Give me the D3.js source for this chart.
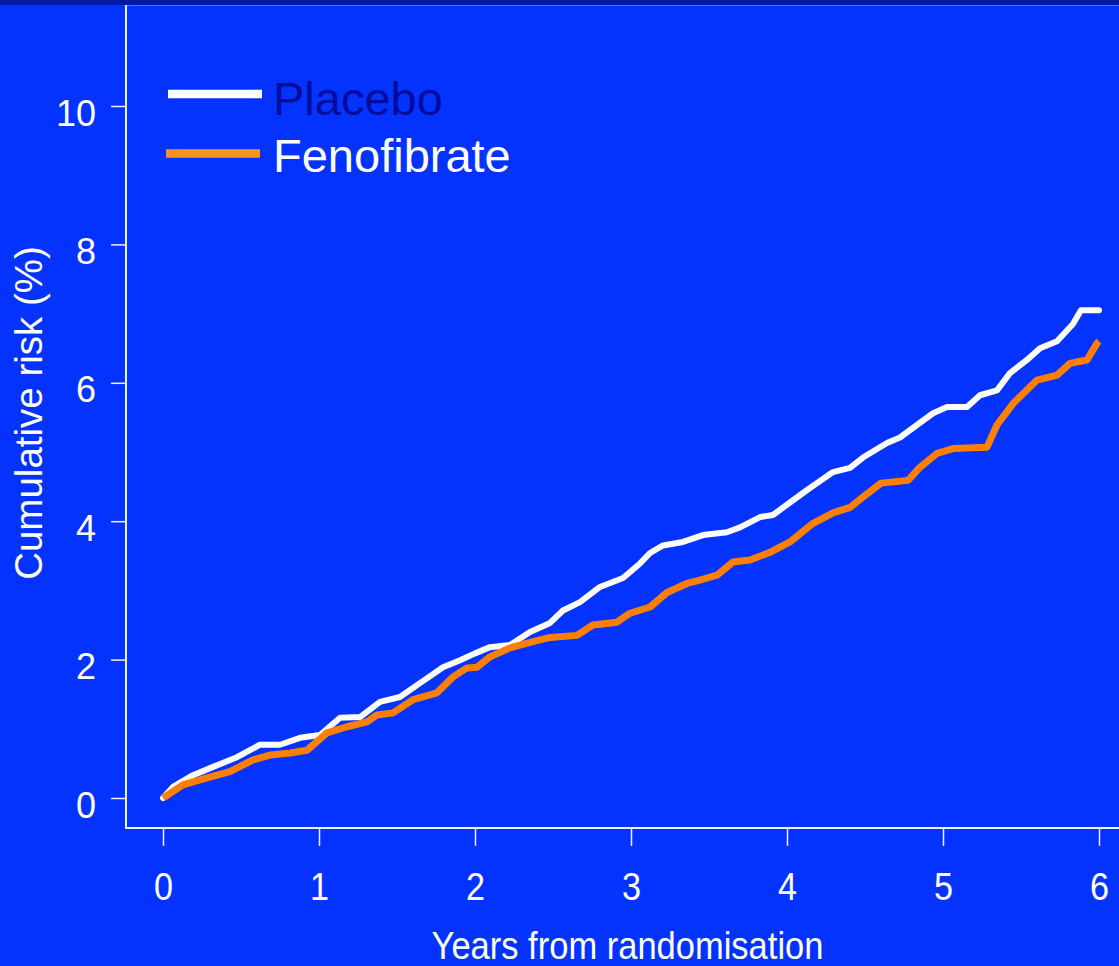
<!DOCTYPE html>
<html>
<head>
<meta charset="utf-8">
<script src="https://cdn.jsdelivr.net/npm/d3@7/dist/d3.min.js"></script>
<style>
  html, body { margin: 0; padding: 0; background: #0433FF; }
  svg { display: block; font-family: "Liberation Sans", Arial, sans-serif; }
</style>
</head>
<body>
<svg id="chart" width="1119" height="966"></svg>
<script>
// ---- data ----
const placeboYears = [0, 0.064, 0.192, 0.321, 0.474, 0.622, 0.750, 0.878, 1.006, 1.135, 1.263, 1.391, 1.519, 1.647, 1.795, 1.904, 2.000, 2.096, 2.224, 2.353, 2.481, 2.564, 2.673, 2.801, 2.949, 3.058, 3.122, 3.205, 3.333, 3.462, 3.615, 3.699, 3.827, 3.910, 4.019, 4.147, 4.295, 4.404, 4.487, 4.641, 4.724, 4.833, 4.936, 5.026, 5.154, 5.237, 5.346, 5.429, 5.538, 5.622, 5.731, 5.833, 5.885, 6.0];
const placeboRisk  = [0, 0.16, 0.33, 0.45, 0.59, 0.77, 0.77, 0.87, 0.91, 1.16, 1.17, 1.39, 1.46, 1.66, 1.89, 1.99, 2.09, 2.18, 2.21, 2.40, 2.53, 2.71, 2.83, 3.05, 3.18, 3.39, 3.54, 3.65, 3.70, 3.80, 3.84, 3.91, 4.06, 4.09, 4.27, 4.48, 4.71, 4.77, 4.92, 5.13, 5.21, 5.39, 5.56, 5.65, 5.65, 5.82, 5.89, 6.14, 6.33, 6.50, 6.60, 6.85, 7.05, 7.05];
const fenoYears = [0, 0.128, 0.282, 0.429, 0.577, 0.686, 0.814, 0.923, 1.051, 1.179, 1.308, 1.372, 1.474, 1.603, 1.756, 1.859, 1.949, 2.013, 2.096, 2.224, 2.353, 2.481, 2.654, 2.756, 2.910, 2.994, 3.122, 3.231, 3.359, 3.442, 3.551, 3.654, 3.763, 3.891, 4.019, 4.167, 4.295, 4.404, 4.487, 4.603, 4.776, 4.853, 4.962, 5.064, 5.282, 5.346, 5.449, 5.603, 5.731, 5.814, 5.923, 5.987, 6.0];
const fenoRisk  = [0, 0.19, 0.29, 0.38, 0.55, 0.62, 0.65, 0.69, 0.94, 1.03, 1.10, 1.20, 1.23, 1.42, 1.52, 1.75, 1.88, 1.89, 2.04, 2.17, 2.25, 2.32, 2.35, 2.50, 2.54, 2.67, 2.76, 2.97, 3.10, 3.15, 3.22, 3.41, 3.44, 3.55, 3.70, 3.97, 4.12, 4.20, 4.35, 4.55, 4.59, 4.78, 4.98, 5.05, 5.07, 5.39, 5.70, 6.04, 6.11, 6.28, 6.33, 6.57, 6.60];
const xTicks = [0, 1, 2, 3, 4, 5, 6];
const yTicks = [0, 2, 4, 6, 8, 10];
const seriesNames = ["Placebo", "Fenofibrate"];
const xTitle = "Years from randomisation";
const yTitle = "Cumulative risk (%)";

const svg = d3.select("#chart");
const W = 1119, H = 966;

svg.append("rect").attr("x", 0).attr("y", 0).attr("width", W).attr("height", H).attr("fill", "#0433FF");
svg.append("rect").attr("x", 0).attr("y", 0).attr("width", W).attr("height", 5).attr("fill", "#0019A8");
svg.append("line").attr("x1", 126).attr("x2", W).attr("y1", 5.5).attr("y2", 5.5)
   .attr("stroke", "#4D6BFF").attr("stroke-width", 1);

const x = d3.scaleLinear().domain([0, 6]).range([163, 1099]);
const y = d3.scaleLinear().domain([0, 10]).range([798, 106]);

// axes lines
svg.append("line").attr("x1", 126).attr("x2", 126).attr("y1", 5).attr("y2", 829)
   .attr("stroke", "#F0F0FF").attr("stroke-width", 2);
svg.append("line").attr("x1", 125).attr("x2", W).attr("y1", 828).attr("y2", 828)
   .attr("stroke", "#F0F0FF").attr("stroke-width", 2);

// x axis
const gx = svg.append("g").attr("transform", "translate(0,829)")
  .call(d3.axisBottom(x).tickValues(xTicks).tickSize(17).tickSizeOuter(0).tickFormat(d3.format("d")));
gx.select(".domain").remove();
gx.selectAll(".tick line").attr("stroke", "#F0F0FF").attr("stroke-width", 1.5);
gx.selectAll(".tick text")
  .attr("y", null).attr("dy", null)
  .attr("transform", "translate(0,71) scale(0.9,1)")
  .attr("fill", "white").attr("font-size", 38).attr("text-anchor", "middle")
  .style("font-family", "'Liberation Sans', Arial, sans-serif");

// y axis
const gy = svg.append("g").attr("transform", "translate(126,0)")
  .call(d3.axisLeft(y).tickValues(yTicks).tickSize(15).tickSizeOuter(0).tickFormat(d3.format("d")));
gy.select(".domain").remove();
gy.selectAll(".tick line").attr("stroke", "#F0F0FF").attr("stroke-width", 1.5);
gy.selectAll(".tick text")
  .attr("x", -30).attr("dy", null).attr("y", 19)
  .attr("fill", "white").attr("font-size", 36).attr("text-anchor", "end")
  .style("font-family", "'Liberation Sans', Arial, sans-serif");

// titles
svg.append("text")
  .attr("transform", "translate(627.5,959) scale(0.885,1)")
  .attr("text-anchor", "middle").attr("fill", "white").attr("font-size", 39)
  .text(xTitle);
svg.append("text")
  .attr("transform", "translate(42,413) rotate(-90)")
  .attr("text-anchor", "middle").attr("fill", "white").attr("font-size", 38.5)
  .text(yTitle);

// lines
const line = d3.line().x(d => x(d[0])).y(d => y(d[1])).curve(d3.curveLinear);
const placebo = placeboYears.map((t, i) => [t, placeboRisk[i]]);
const feno = fenoYears.map((t, i) => [t, fenoRisk[i]]);

svg.append("path").datum(placebo).attr("d", line)
  .attr("fill", "none").attr("stroke", "white").attr("stroke-width", 6)
  .attr("stroke-linejoin", "round").attr("stroke-linecap", "round");
svg.append("path").datum(feno).attr("d", line)
  .attr("fill", "none").attr("stroke", "#FF8000").attr("stroke-width", 7)
  .attr("stroke-linejoin", "round").attr("stroke-linecap", "butt");

// legend
const legend = [
  { name: seriesNames[0], line: "white", text: "#000C9C", x1: 168, x2: 262, ly: 94, ty: 115 },
  { name: seriesNames[1], line: "#F7941D", text: "white", x1: 166, x2: 260, ly: 153.5, ty: 172 }
];
const lg = svg.append("g");
lg.selectAll("line").data(legend).join("line")
  .attr("x1", d => d.x1).attr("x2", d => d.x2).attr("y1", d => d.ly).attr("y2", d => d.ly)
  .attr("stroke", d => d.line).attr("stroke-width", 8.5);
lg.selectAll("text").data(legend).join("text")
  .attr("x", 273).attr("y", d => d.ty).attr("fill", d => d.text).attr("font-size", 47)
  .text(d => d.name);
</script>
</body>
</html>
